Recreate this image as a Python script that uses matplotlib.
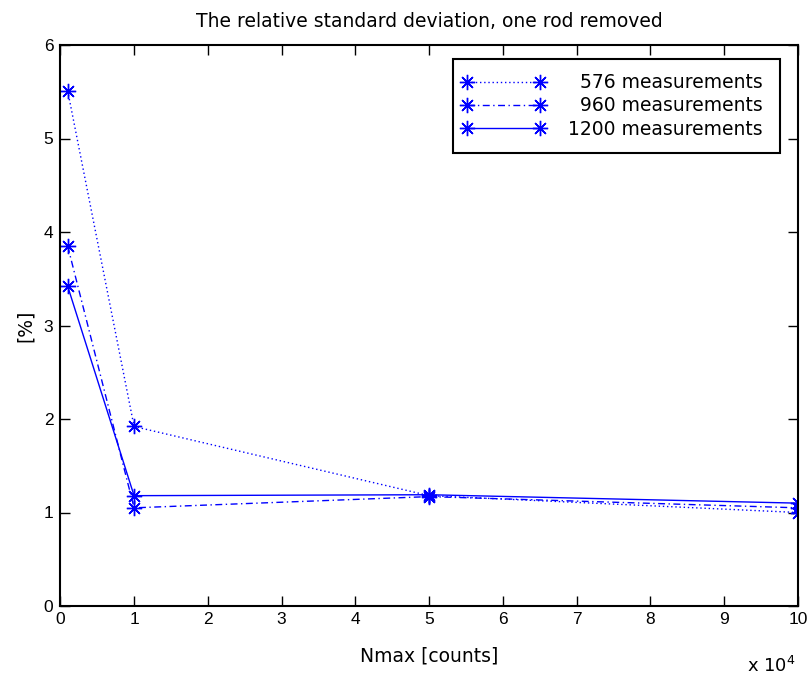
import matplotlib
matplotlib.use("Agg")
import matplotlib.pyplot as plt
from matplotlib.legend_handler import HandlerLine2D
from matplotlib.ticker import FuncFormatter, MultipleLocator

plt.rcParams["font.family"] = ["DejaVu Sans"]
plt.rcParams["mathtext.fontset"] = "dejavusans"

# Nmax in counts
nmax = [1000, 10000, 50000, 100000]
rsd_576 = [5.51, 1.92, 1.18, 1.00]
rsd_960 = [3.85, 1.05, 1.17, 1.05]
rsd_1200 = [3.42, 1.18, 1.19, 1.10]
labels = ["  576 measurements", "  960 measurements", "1200 measurements"]

W, H = 809, 675
fig = plt.figure(figsize=(W / 100, H / 100), dpi=100)
ax = fig.add_axes([60.3 / W, 1 - 606 / H, (798 - 60.3) / W, (606 - 45) / H])

blue = (0, 0, 1)
asterisk = (8, 2, 0)
common = dict(color=blue, marker=asterisk, markersize=11, markeredgewidth=1.0, linewidth=1.0)
ax.plot(nmax, rsd_576, linestyle=(0, (1, 2)), label=labels[0], **common)
ax.plot(nmax, rsd_960, linestyle=(0, (5, 2.5, 1, 2.5)), label=labels[1], **common)
ax.plot(nmax, rsd_1200, linestyle="-", label=labels[2], **common)

ax.set_xlim(0, 100000)
ax.set_ylim(0, 6)
ax.xaxis.set_major_locator(MultipleLocator(10000))
ax.yaxis.set_major_locator(MultipleLocator(1))
ax.xaxis.set_major_formatter(FuncFormatter(lambda v, p: f"{v / 1e4:g}"))
ax.yaxis.set_major_formatter(FuncFormatter(lambda v, p: f"{v:g}"))

ax.tick_params(direction="in", length=7, width=1.0, labelsize=12.5,
               top=True, right=True, colors="black")
ax.tick_params(axis="x", pad=4)
ax.tick_params(axis="y", pad=5)
for t in ax.get_xticklabels() + ax.get_yticklabels():
    t.set_fontfamily("Liberation Sans")
for s in ax.spines.values():
    s.set_linewidth(1.5)
    s.set_color("black")

ax.set_title("The relative standard deviation, one rod removed", fontsize=13.5, pad=13)
ax.set_xlabel("Nmax [counts]", fontsize=13.5, labelpad=14)
ax.set_ylabel("[%]", fontsize=13.5, labelpad=6)

fig.text(796 / W, 3 / H, r"x 10$^{4}$", ha="right", va="baseline", fontsize=13)

# legend box spanning the upper right region of the axes
x0 = (453 - 60.3) / 737.7
x1 = (780 - 60.3) / 737.7
y1 = (606 - 59) / 561
leg = ax.legend(loc="upper left", bbox_to_anchor=(x0, y1 - 0.2, x1 - x0, 0.2),
                mode="expand", borderaxespad=0, fontsize=13.5, numpoints=2,
                handlelength=3.9, handletextpad=1.5, borderpad=0.75,
                labelspacing=0.23, fancybox=False, framealpha=1,
                edgecolor="black",
                handler_map={plt.Line2D: HandlerLine2D(marker_pad=0)})
leg.get_frame().set_linewidth(1.5)

fig.savefig("out.png", dpi=100, facecolor="white")
